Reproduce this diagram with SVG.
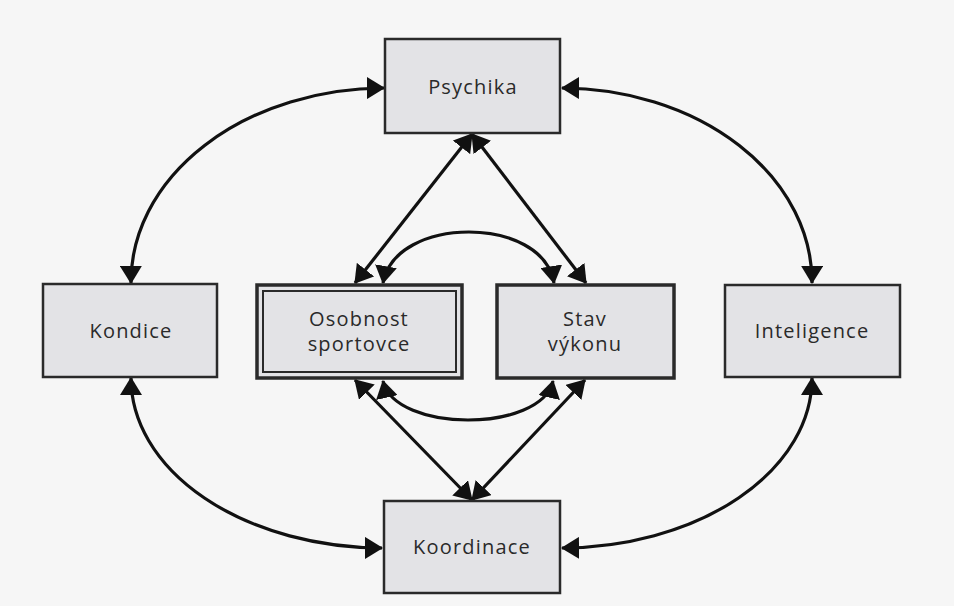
<svg xmlns="http://www.w3.org/2000/svg" width="954" height="606" viewBox="0 0 954 606">
<defs>
<style>
.box{fill:#e3e3e6;stroke:#2a2a2a;stroke-width:2.5}
.thick{stroke-width:3.5}
.lbl{font-family:"Open Sans","Noto Sans",sans-serif;font-size:20px;fill:#2a2a2a;text-anchor:middle;letter-spacing:1.2px}
.con{fill:none;stroke:#111;stroke-width:3.2}
</style>
<marker id="ah" viewBox="0 0 18 22" refX="17" refY="11" markerUnits="userSpaceOnUse" markerWidth="18" markerHeight="22" orient="auto-start-reverse">
<path d="M0,0 L18,11 L0,22 z" fill="#111"/>
</marker>
</defs>
<rect x="0" y="0" width="954" height="606" fill="#f6f6f6"/>

<g id="connectors">
<path class="con" marker-start="url(#ah)" marker-end="url(#ah)" d="M384,88 A254,194 0 0 0 131,283"/>
<path class="con" marker-start="url(#ah)" marker-end="url(#ah)" d="M562,88 A251,194 0 0 1 812,283"/>
<path class="con" marker-start="url(#ah)" marker-end="url(#ah)" d="M131,378 A252,170 0 0 0 382,548"/>
<path class="con" marker-start="url(#ah)" marker-end="url(#ah)" d="M812,378 A252,170 0 0 1 562,548"/>
<path class="con" marker-start="url(#ah)" marker-end="url(#ah)" d="M472,134 L355,283"/>
<path class="con" marker-start="url(#ah)" marker-end="url(#ah)" d="M472,134 L586,283"/>
<path class="con" marker-start="url(#ah)" marker-end="url(#ah)" d="M383,283 C395,215 543,215 554,283"/>
<path class="con" marker-start="url(#ah)" marker-end="url(#ah)" d="M355,380 L472,500"/>
<path class="con" marker-start="url(#ah)" marker-end="url(#ah)" d="M585,380 L472,500"/>
<path class="con" marker-start="url(#ah)" marker-end="url(#ah)" d="M383,381 C395,433 541,433 553,381"/>
</g>

<g id="psychika">
<rect class="box" x="385" y="39" width="175" height="94"/>
<text class="lbl" x="473" y="94">Psychika</text>
</g>
<g id="kondice">
<rect class="box" x="43" y="284" width="174" height="93"/>
<text class="lbl" x="131" y="338">Kondice</text>
</g>
<g id="osobnost">
<rect class="box thick" x="257" y="285" width="205" height="93"/>
<rect x="263" y="291" width="193" height="81" fill="none" stroke="#2a2a2a" stroke-width="2"/>
<text class="lbl" x="359" y="326">Osobnost</text>
<text class="lbl" x="359" y="351">sportovce</text>
</g>
<g id="stav">
<rect class="box thick" x="497" y="285" width="177" height="93"/>
<text class="lbl" x="585" y="326">Stav</text>
<text class="lbl" x="585" y="351">výkonu</text>
</g>
<g id="inteligence">
<rect class="box" x="725" y="285" width="175" height="92"/>
<text class="lbl" x="812" y="338">Inteligence</text>
</g>
<g id="koordinace">
<rect class="box" x="384" y="501" width="176" height="92"/>
<text class="lbl" x="472" y="554">Koordinace</text>
</g>
</svg>
